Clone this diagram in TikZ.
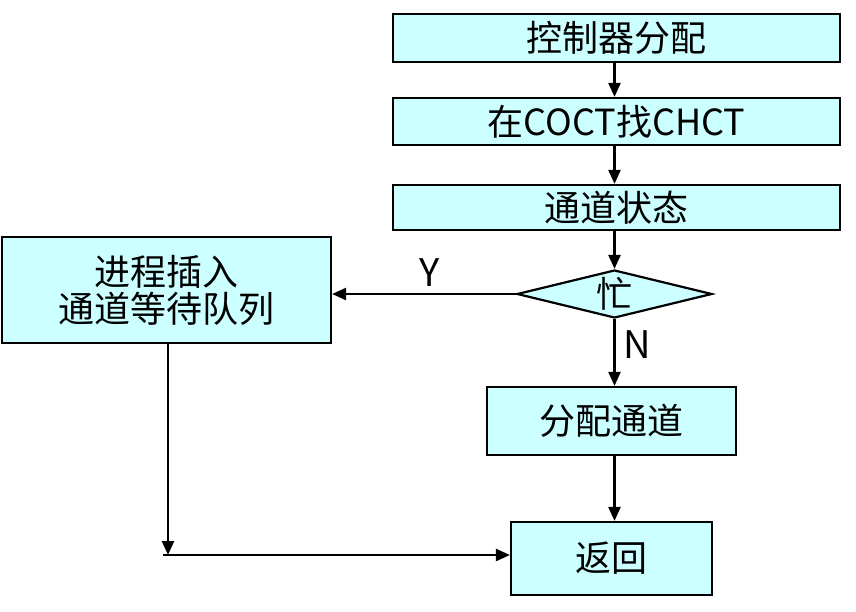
\documentclass[tikz,border=0pt]{standalone}
\usepackage{fontspec}
\setmainfont{Noto Sans CJK SC}
\usetikzlibrary{arrows.meta,shapes.geometric}
\definecolor{boxcyan}{HTML}{CCFFFF}
\tikzset{
    box/.style={draw=black, line width=2.2pt, fill=boxcyan, inner sep=0pt, align=center,
        font=\fontsize{36}{37}\selectfont},
    flow/.style={line width=2.4pt, -{Triangle[length=14pt,width=12pt]}},
    tag/.style={font=\fontsize{38}{38}\selectfont, inner sep=0pt},
}
\begin{document}
\begin{tikzpicture}[x=1pt, y=-1pt]
    \useasboundingbox (0,0) rectangle (856,612);
    \node[box, minimum width=447pt, minimum height=48pt] (alloc) at (616.5,38) {控制器分配};
    \node[box, minimum width=447pt, minimum height=47pt] (find) at (616.5,121.5) {在COCT找CHCT};
    \node[box, minimum width=447pt, minimum height=45pt] (state) at (616.5,207.5) {通道状态};
    \node[box, diamond, aspect=4.2, minimum width=195pt, minimum height=48pt] (busy) at (614.5,294) {忙};
    \node[box, minimum width=329pt, minimum height=106pt] (queue) at (166.5,290) {进程插入\\通道等待队列};
    \node[box, minimum width=249pt, minimum height=68pt] (give) at (611.5,421) {分配通道};
    \node[box, minimum width=201pt, minimum height=73pt] (ret) at (611.5,558.5) {返回};
    \node[tag] (yes) at (430,273) {Y};
    \node[tag] (no) at (637,345) {N};
    \coordinate (corner) at (168,555);
    \draw[flow] (alloc.south -| busy) -- (find.north -| busy);
    \draw[flow] (find.south -| busy) -- (state.north -| busy);
    \draw[flow] (state.south -| busy) -- (busy.north);
    \draw[flow] (busy.west) -- (queue.east |- busy.west);
    \draw[flow] (busy.south) -- (give.north -| busy);
    \draw[flow] (give.south -| busy) -- (ret.north -| busy);
    \draw[flow] (queue.south -| corner) -- (corner);
    \draw[flow] ([xshift=-5pt]corner) -- (ret.west |- corner);
\end{tikzpicture}
\end{document}
